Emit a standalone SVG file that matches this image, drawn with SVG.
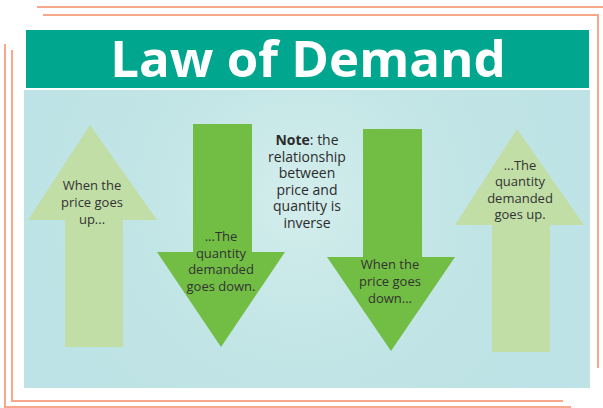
<svg xmlns="http://www.w3.org/2000/svg" width="603" height="408" viewBox="0 0 603 408">
<defs>
<radialGradient id="bg" cx="300" cy="200" r="300" gradientUnits="userSpaceOnUse">
<stop offset="0" stop-color="#D3EDEC"/>
<stop offset="0.5" stop-color="#C2E5E6"/>
<stop offset="1" stop-color="#BDE3E6"/>
</radialGradient>
<style>
.frame{fill:none;stroke:#F7A88C;stroke-width:2}
.up{fill:#C1DEA6}
.down{fill:#72BE44}
.t{font-family:"Open Sans","Noto Sans",sans-serif;font-size:13px;fill:#333333;text-anchor:middle}
.n{font-family:"Open Sans","Noto Sans",sans-serif;font-size:14px;fill:#2b2b2b;text-anchor:middle}
</style>
</defs>
<g id="frame">
<polyline class="frame" points="37,7 603,7"/>
<polyline class="frame" points="43,15 598,15 598,368"/>
<polyline class="frame" points="5,44 5,407 571,407"/>
<polyline class="frame" points="12,50 12,401 563,401"/>
</g>
<g id="header">
<rect x="26" y="30" width="563" height="58" fill="#00A78E"/>
<text x="308" y="77" font-family="'Open Sans','Noto Sans',sans-serif" font-weight="bold" font-size="51" fill="#ffffff" text-anchor="middle">Law of Demand</text>
</g>
<g id="panel">
<rect x="24" y="90" width="566" height="298" fill="url(#bg)"/>
</g>
<g id="connectors"></g>
<g id="arrow1">
<polygon class="up" points="90,125 157,220 123,220 123,347 65,347 65,220 28,220"/>
<text class="t" x="92" y="190">When the</text>
<text class="t" x="92" y="207">price goes</text>
<text class="t" x="92" y="224">up...</text>
</g>
<g id="arrow2">
<polygon class="down" points="193,124 252,124 252,252 285,252 221,347 157,252 193,252"/>
<text class="t" x="221" y="241">...The</text>
<text class="t" x="221" y="258">quantity</text>
<text class="t" x="221" y="274">demanded</text>
<text class="t" x="221" y="291">goes down.</text>
</g>
<g id="note">
<text class="n" x="307" y="145"><tspan font-weight="bold">Note</tspan>: the</text>
<text class="n" x="307" y="162">relationship</text>
<text class="n" x="307" y="178">between</text>
<text class="n" x="307" y="195">price and</text>
<text class="n" x="307" y="211">quantity is</text>
<text class="n" x="307" y="228">inverse</text>
</g>
<g id="arrow3">
<polygon class="down" points="363,129 422,129 422,257 455,257 391,351 327,257 363,257"/>
<text class="t" x="390" y="269">When the</text>
<text class="t" x="390" y="286">price goes</text>
<text class="t" x="390" y="303">down...</text>
</g>
<g id="arrow4">
<polygon class="up" points="517,129 584,225 550,225 550,352 492,352 492,225 455,225"/>
<text class="t" x="520" y="170">...The</text>
<text class="t" x="520" y="186">quantity</text>
<text class="t" x="520" y="203">demanded</text>
<text class="t" x="520" y="219">goes up.</text>
</g>
</svg>
